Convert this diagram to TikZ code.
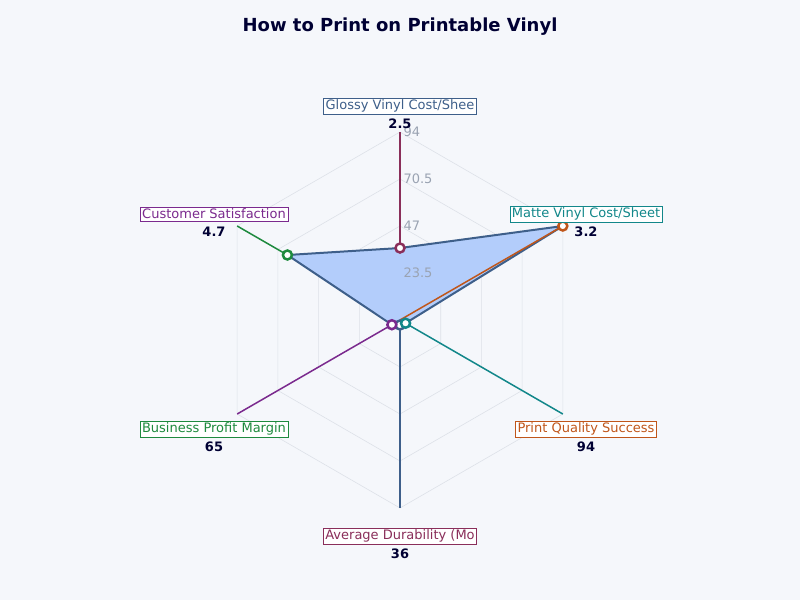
\documentclass[tikz,border=0pt]{standalone}
\usepackage{fontspec}
\setmainfont{DejaVu Sans}
\usetikzlibrary{positioning,calc}
\definecolor{bgc}{HTML}{F5F7FB}
\definecolor{gridc}{HTML}{DDE1E8}
\definecolor{cGlossy}{HTML}{3E5F8A}
\definecolor{cMatte}{HTML}{12878A}
\definecolor{cPrint}{HTML}{C0561A}
\definecolor{cDur}{HTML}{8A2E5A}
\definecolor{cBiz}{HTML}{1E8A3E}
\definecolor{cCust}{HTML}{7B2A8E}
\definecolor{fillc}{HTML}{B3CDFB}
\definecolor{tickc}{HTML}{9AA3B2}
\tikzset{
  axislabel/.style={draw=#1,text=#1,fill=white,font=\fontsize{13}{15}\selectfont,inner sep=2pt},
  valuelabel/.style={font=\bfseries\fontsize{13}{15}\selectfont,text=black!80!blue},
  marker/.style={circle,draw=#1,line width=2.5pt,fill=white,inner sep=0pt,minimum size=9pt}
}
\begin{document}
\begin{tikzpicture}[x=1pt,y=-1pt]
\fill[bgc] (0,0) rectangle (800,600);
\useasboundingbox (0,0) rectangle (800,600);
\coordinate (c) at (400,320);
% grid rings
\foreach \r in {47,94,141,188}
  \draw[gridc,line width=0.6pt] (c) ++(90:\r) -- ++(-30:\r) -- ++(-90:\r) -- ++(-150:\r) -- ++(150:\r) -- ++(90:\r) -- cycle;
\foreach \a in {30,150,210,330}
  \draw[gridc,line width=0.6pt] (c) -- ++(\a:188);
% outer axis ends
\path (c) ++(90:188) coordinate (eGlossy) (c) ++(30:188) coordinate (eMatte)
      (c) ++(-30:188) coordinate (ePrint) (c) ++(-90:188) coordinate (eDur)
      (c) ++(210:188) coordinate (eBiz) (c) ++(150:188) coordinate (eCust);
% data points
\path (c) ++(90:5) coordinate (pGlossy) (c) ++(30:6.4) coordinate (pMatte)
      (c) ++(-30:188) coordinate (pPrint) (c) ++(-90:72) coordinate (pDur)
      (c) ++(210:130) coordinate (pBiz) (c) ++(150:9.4) coordinate (pCust);
\filldraw[fill=fillc,draw=cGlossy,line width=2pt] (pGlossy) -- (pMatte) -- (pPrint) -- (pDur) -- (pBiz) -- (pCust) -- cycle;
\draw[cGlossy,line width=2pt] (c) -- (eGlossy);
\draw[cMatte,line width=1.5pt] (pMatte) -- (eMatte);
\draw[cPrint,line width=1.5pt] (c) -- (ePrint);
\draw[cDur,line width=1.5pt] (pDur) -- (eDur);
\draw[cBiz,line width=1.5pt] (pBiz) -- (eBiz);
\draw[cCust,line width=1.5pt] (pCust) -- (eCust);
% ticks
\foreach \v/\r in {23.5/47,47/94,70.5/141,94/188}
  \node[anchor=west,text=tickc,font=\fontsize{13}{15}\selectfont] (t\r) at ($(c)+(0,-\r)$) {\v};
\node[marker=cGlossy] (mGlossy) at (pGlossy) {};
\node[marker=cCust] (mCust) at (pCust) {};
\node[marker=cMatte] (mMatte) at (pMatte) {};
\node[marker=cPrint] (mPrint) at (pPrint) {};
\node[marker=cDur] (mDur) at (pDur) {};
\node[marker=cBiz] (mBiz) at (pBiz) {};
% labels
\node[axislabel=cGlossy] (lGlossy) at (400,106) {Glossy Vinyl Cost/Shee};
\node[valuelabel] (vGlossy) at (400,124) {2.5};
\node[axislabel=cMatte] (lMatte) at (586,214) {Matte Vinyl Cost/Sheet};
\node[valuelabel] (vMatte) at (586,232) {3.2};
\node[axislabel=cPrint] (lPrint) at (586,429) {Print Quality Success};
\node[valuelabel] (vPrint) at (586,447) {94};
\node[axislabel=cDur] (lDur) at (400,536) {Average Durability (Mo};
\node[valuelabel] (vDur) at (400,554) {36};
\node[axislabel=cBiz] (lBiz) at (214,429) {Business Profit Margin};
\node[valuelabel] (vBiz) at (214,447) {65};
\node[axislabel=cCust] (lCust) at (214,214) {Customer Satisfaction};
\node[valuelabel] (vCust) at (214,232) {4.7};
\node[font=\bfseries\fontsize{18}{22}\selectfont,text=black!80!blue] (title) at (400,27) {How to Print on Printable Vinyl};
\end{tikzpicture}
\end{document}
